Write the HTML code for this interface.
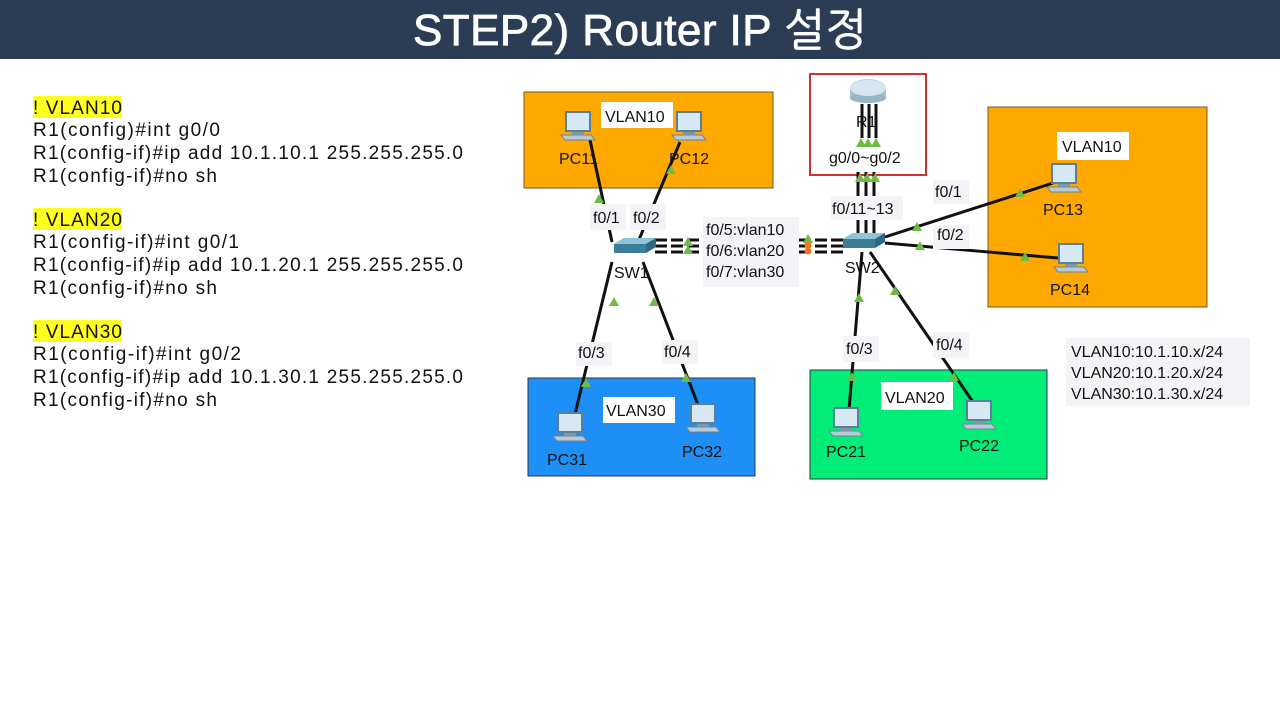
<!DOCTYPE html>
<html><head><meta charset="utf-8"><style>
body{margin:0;background:#fff;}
svg{display:block;font-family:"Liberation Sans","NanumGothic",sans-serif;}
</style></head><body>
<svg width="1280" height="720" viewBox="0 0 1280 720" xmlns="http://www.w3.org/2000/svg">
<defs>
<g id="pc">
<rect x="2" y="0" width="26" height="21" fill="#5a7f9a"/>
<rect x="4" y="2" width="22" height="17" fill="#d6e8f2"/>
<polygon points="-2,24 28,24 32,29 2,29" fill="#b8cad6" stroke="#6c8598" stroke-width="1"/>
<rect x="9" y="21" width="12" height="3" fill="#7e98aa"/>
</g>
<g id="sw">
<polygon points="0,6 10,0 42,0 42,6 32,12 0,12" fill="#4f8fa8"/>
<polygon points="0,6 10,0 42,0 32,6" fill="#8cc4d8"/>
<rect x="0" y="6" width="32" height="9" fill="#3c7d97"/>
<polygon points="32,6 42,0 42,9 32,15" fill="#2f6880"/>
</g>
<g id="tri"><polygon points="0,-5 5,4 -5,4" fill="#6dbb45"/></g>
</defs>
<rect x="0" y="0" width="1280" height="59" fill="#2b3d54"/>
<text x="413" y="45" font-size="44" fill="#fff" textLength="454" stroke="#fff" stroke-width="0.8">STEP2) Router IP 설정</text>

<g font-size="19" fill="#111">
<rect x="33" y="96" width="89" height="22" fill="#ffff20"/>
<text x="33" y="114" textLength="89">! VLAN10</text>
<text x="33" y="136" textLength="187">R1(config)#int g0/0</text>
<text x="33" y="159" textLength="430">R1(config-if)#ip add 10.1.10.1 255.255.255.0</text>
<text x="33" y="182" textLength="184">R1(config-if)#no sh</text>
<rect x="33" y="208" width="89" height="22" fill="#ffff20"/>
<text x="33" y="226" textLength="89">! VLAN20</text>
<text x="33" y="248" textLength="206">R1(config-if)#int g0/1</text>
<text x="33" y="271" textLength="430">R1(config-if)#ip add 10.1.20.1 255.255.255.0</text>
<text x="33" y="294" textLength="184">R1(config-if)#no sh</text>
<rect x="33" y="320" width="89" height="22" fill="#ffff20"/>
<text x="33" y="338" textLength="89">! VLAN30</text>
<text x="33" y="360" textLength="208">R1(config-if)#int g0/2</text>
<text x="33" y="383" textLength="430">R1(config-if)#ip add 10.1.30.1 255.255.255.0</text>
<text x="33" y="406" textLength="184">R1(config-if)#no sh</text>
</g>

<rect x="524" y="92" width="249" height="96" fill="#ffa800" stroke="#6b5a30" stroke-width="1"/>
<rect x="988" y="107" width="219" height="200" fill="#ffa800" stroke="#6b5a30" stroke-width="1"/>
<rect x="528" y="378" width="227" height="98" fill="#1e8ff6" stroke="#334" stroke-width="1"/>
<rect x="810" y="370" width="237" height="109" fill="#00ee78" stroke="#334" stroke-width="1"/>
<rect x="810" y="74" width="116" height="101" fill="#fff" stroke="#d03030" stroke-width="2"/>
<rect x="1066" y="338" width="184" height="68" fill="#f4f4f8"/>

<g stroke="#111" stroke-width="3">
<line x1="590" y1="140" x2="612" y2="242"/>
<line x1="680" y1="142" x2="638" y2="242"/>
<line x1="612" y1="262" x2="575" y2="414"/>
<line x1="643" y1="262" x2="700" y2="410"/>
<line x1="858" y1="172" x2="858" y2="236"/>
<line x1="866" y1="172" x2="866" y2="236"/>
<line x1="874" y1="172" x2="874" y2="236"/>
<line x1="862" y1="104" x2="862" y2="138"/>
<line x1="869" y1="104" x2="869" y2="138"/>
<line x1="876" y1="104" x2="876" y2="138"/>
<line x1="885" y1="237" x2="1053" y2="183"/>
<line x1="885" y1="243" x2="1058" y2="258"/>
<line x1="862" y1="252" x2="849" y2="410"/>
<line x1="870" y1="252" x2="973" y2="402"/>
</g>
<g stroke="#111" stroke-width="3" stroke-dasharray="12,4">
<line x1="655" y1="240" x2="845" y2="240"/>
<line x1="655" y1="246" x2="845" y2="246"/>
<line x1="655" y1="252" x2="845" y2="252"/>
</g>

<ellipse cx="868" cy="88" rx="18" ry="9" fill="#b9d3e0"/>
<rect x="850" y="88" width="36" height="10" fill="#a5c2d0"/>
<ellipse cx="868" cy="98" rx="18" ry="5" fill="#98b6c4"/>
<ellipse cx="868" cy="88" rx="18" ry="8" fill="#d4e6ee"/>

<use href="#sw" x="614" y="238"/>
<use href="#sw" x="843" y="233"/>
<use href="#pc" x="563" y="111"/>
<use href="#pc" x="674" y="111"/>
<use href="#pc" x="1049" y="163"/>
<use href="#pc" x="1056" y="243"/>
<use href="#pc" x="555" y="412"/>
<use href="#pc" x="688" y="403"/>
<use href="#pc" x="831" y="407"/>
<use href="#pc" x="964" y="400"/>

<use href="#tri" x="599" y="199"/>
<use href="#tri" x="609" y="217"/>
<use href="#tri" x="671" y="170"/>
<use href="#tri" x="659" y="219"/>
<use href="#tri" x="614" y="302"/>
<use href="#tri" x="654" y="302"/>
<use href="#tri" x="586" y="383"/>
<use href="#tri" x="686" y="378"/>
<use href="#tri" x="688" y="242"/>
<use href="#tri" x="688" y="250"/>
<use href="#tri" x="808" y="239"/>
<use href="#tri" x="861" y="143"/>
<use href="#tri" x="868" y="143"/>
<use href="#tri" x="876" y="143"/>
<use href="#tri" x="860" y="178"/>
<use href="#tri" x="867" y="178"/>
<use href="#tri" x="875" y="178"/>
<use href="#tri" x="917" y="227"/>
<use href="#tri" x="1020" y="193"/>
<use href="#tri" x="920" y="246"/>
<use href="#tri" x="1025" y="257"/>
<use href="#tri" x="859" y="298"/>
<use href="#tri" x="895" y="291"/>
<use href="#tri" x="852" y="377"/>
<use href="#tri" x="954" y="377"/>
<circle cx="808" cy="245" r="3.5" fill="#f07820"/>
<circle cx="808" cy="251" r="3.5" fill="#f07820"/>

<g font-size="16" fill="#111">
<rect x="601" y="102" width="72" height="26" fill="#fff"/>
<text x="605" y="122">VLAN10</text>
<text x="559" y="164">PC11</text>
<text x="669" y="164">PC12</text>
<rect x="1057" y="132" width="72" height="28" fill="#fff"/>
<text x="1062" y="152">VLAN10</text>
<text x="1043" y="215">PC13</text>
<text x="1050" y="295">PC14</text>
<rect x="603" y="397" width="72" height="26" fill="#fff"/>
<text x="606" y="416">VLAN30</text>
<text x="547" y="465">PC31</text>
<text x="682" y="457">PC32</text>
<rect x="881" y="382" width="72" height="28" fill="#fff"/>
<text x="885" y="403">VLAN20</text>
<text x="826" y="457">PC21</text>
<text x="959" y="451">PC22</text>
<text x="856" y="127">R1</text>
<text x="829" y="163">g0/0~g0/2</text>
<text x="614" y="278">SW1</text>
<text x="845" y="273">SW2</text>
<rect x="590" y="204" width="36" height="26" fill="#f4f4f8"/>
<text x="593" y="223">f0/1</text>
<rect x="630" y="204" width="36" height="26" fill="#f4f4f8"/>
<text x="633" y="223">f0/2</text>
<rect x="703" y="217" width="96" height="70" fill="#f4f4f8"/>
<text x="706" y="235">f0/5:vlan10</text>
<text x="706" y="256">f0/6:vlan20</text>
<text x="706" y="277">f0/7:vlan30</text>
<rect x="831" y="196" width="72" height="24" fill="#f4f4f8"/>
<text x="832" y="214">f0/11~13</text>
<rect x="933" y="180" width="36" height="24" fill="#f4f4f8"/>
<text x="935" y="197">f0/1</text>
<rect x="933" y="225" width="36" height="24" fill="#f4f4f8"/>
<text x="937" y="240">f0/2</text>
<rect x="576" y="342" width="36" height="24" fill="#f4f4f8"/>
<text x="578" y="358">f0/3</text>
<rect x="662" y="340" width="36" height="24" fill="#f4f4f8"/>
<text x="664" y="357">f0/4</text>
<rect x="843" y="336" width="36" height="26" fill="#f4f4f8"/>
<text x="846" y="354">f0/3</text>
<rect x="933" y="332" width="36" height="26" fill="#f4f4f8"/>
<text x="936" y="350">f0/4</text>
<text x="1071" y="357">VLAN10:10.1.10.x/24</text>
<text x="1071" y="378">VLAN20:10.1.20.x/24</text>
<text x="1071" y="399">VLAN30:10.1.30.x/24</text>
</g>
</svg>
</body></html>
